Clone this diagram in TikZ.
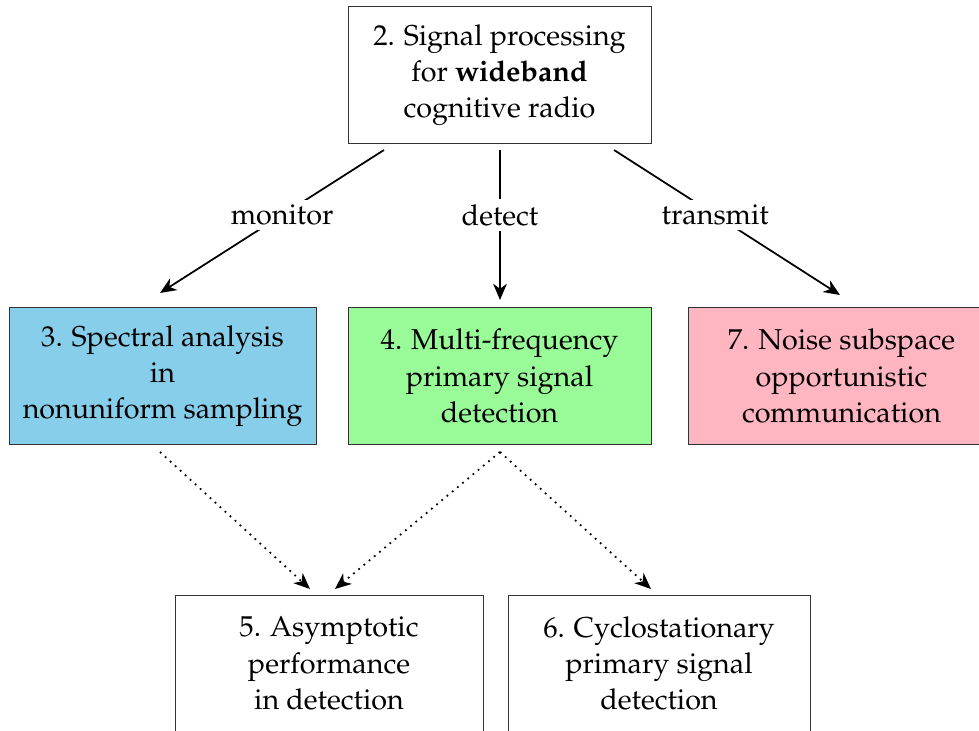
\documentclass[tikz,border=0pt]{standalone}
\usepackage[T1]{fontenc}
\usepackage{mathpazo}
\usetikzlibrary{arrows.meta}
\definecolor{boxblue}{HTML}{87CEEB}
\definecolor{boxgreen}{HTML}{98FB98}
\definecolor{boxpink}{HTML}{FFB6C1}
\tikzset{
  topicbox/.style={draw=black!80, line width=0.4pt, align=center, minimum width=#1*0.4pt, minimum height=137*0.4pt, inner sep=0pt, font=\fontsize{11.5}{14.5}\selectfont},
  topicbox/.default=303,
  solidarrow/.style={-{Stealth[length=6.5pt,width=5.5pt,inset=2pt]}, line width=0.7pt},
  dotarrow/.style={-{Stealth[length=6.5pt,width=5.5pt,inset=2pt]}, line width=0.7pt, dotted},
  edgelabel/.style={fill=white, inner sep=2pt, font=\fontsize{11.5}{14.5}\selectfont}
}
\begin{document}
\begin{tikzpicture}[x=0.4pt, y=-0.4pt]
\useasboundingbox (0,0) rectangle (979,731);
\clip (0,0) rectangle (979,731);
\node[topicbox=303] (top) at (499.5,75) {2. Signal processing\\for \textbf{wideband}\\cognitive radio};
\node[topicbox=307, fill=boxblue] (spec) at (162.5,376) {3. Spectral analysis\\in\\nonuniform sampling};
\node[topicbox=303, fill=boxgreen] (multi) at (499.5,376) {4. Multi-frequency\\primary signal\\detection};
\node[topicbox=307, fill=boxpink] (noise) at (841.5,376) {7. Noise subspace\\opportunistic\\communication};
\node[topicbox=308] (asym) at (329,663.5) {5. Asymptotic\\performance\\in detection};
\node[topicbox=302] (cyclo) at (659,663.5) {6. Cyclostationary\\primary signal\\detection};
\coordinate (t1) at (384,150);
\coordinate (t2) at (500,150);
\coordinate (t3) at (614,150);
\coordinate (m1) at (160,293);
\coordinate (m2) at (500,300);
\coordinate (m3) at (840,295);
\coordinate (s1) at (160,452);
\coordinate (g1) at (500,452);
\coordinate (b1) at (310,589);
\coordinate (b2) at (335,589);
\coordinate (b3) at (651,589);
\draw[solidarrow] (t1) -- node[edgelabel, pos=0.455] (lmon) {monitor} (m1);
\draw[solidarrow] (t2) -- node[edgelabel, pos=0.433] (ldet) {detect} (m2);
\draw[solidarrow] (t3) -- node[edgelabel, pos=0.448] (ltra) {transmit} (m3);
\draw[dotarrow] (s1) -- (b1);
\draw[dotarrow] (g1) -- (b2);
\draw[dotarrow] (g1) -- (b3);
\end{tikzpicture}
\end{document}
